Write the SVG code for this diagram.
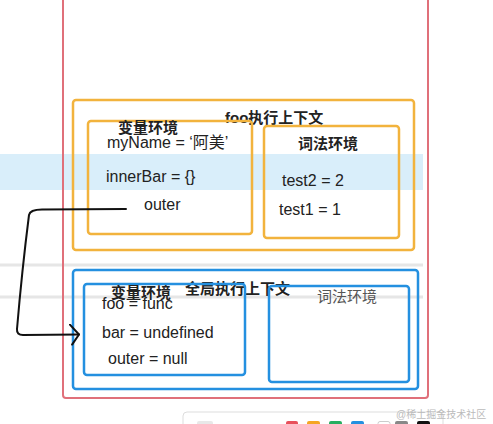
<svg xmlns="http://www.w3.org/2000/svg" width="493" height="424" viewBox="0 0 493 424">
  <style>
    .t { font-family: "Liberation Sans", "Noto Sans CJK SC", sans-serif; fill: #222; font-size: 16px; }
    .h { font-family: "Liberation Sans", "Noto Sans CJK SC", sans-serif; fill: #222; font-size: 15px; font-weight: bold; }
    .hr { font-family: "Liberation Sans", "Noto Sans CJK SC", sans-serif; fill: #555; font-size: 15px; }
    .org { fill: none; stroke: #f2b33d; stroke-width: 2.5; }
    .blu { fill: none; stroke: #2490e0; stroke-width: 2.5; }
    .grey { stroke: #e6e6e6; stroke-width: 3; }
    .sw { stroke: none; }
  </style>
  <defs>
    <marker id="arr" viewBox="0 0 12 22" refX="10" refY="11" markerWidth="12" markerHeight="22" markerUnits="userSpaceOnUse" orient="auto">
      <path d="M1,1 L10,11 L3,21" fill="none" stroke="#111" stroke-width="2" stroke-linecap="round" stroke-linejoin="round"/>
    </marker>
  </defs>
  <rect width="493" height="424" fill="#ffffff"/>
  <!-- background highlight band and grey lines -->
  <rect x="0" y="154" width="423" height="36" fill="#d9eefa"/>
  <line class="grey" x1="0" y1="265" x2="423" y2="265"/>
  <line class="grey" x1="0" y1="297" x2="423" y2="297"/>

  <g id="outer-stack">
    <rect x="63" y="-5" width="365" height="403" rx="3" fill="none" stroke="#e0707a" stroke-width="2"/>
  </g>

  <g id="foo-context">
    <rect class="org" x="73" y="100" width="341" height="150" rx="3"/>
    <text class="h" x="225" y="123">foo执行上下文</text>
  </g>
  <g id="foo-variable-env">
    <rect class="org" x="88" y="121" width="164" height="113" rx="3"/>
    <text class="h" x="118" y="133">变量环境</text>
    <text class="t" x="107" y="148">myName = ‘阿美’</text>
    <text class="t" x="106" y="182">innerBar = {}</text>
    <text class="t" x="144" y="210">outer</text>
  </g>
  <g id="foo-lexical-env">
    <rect class="org" x="264" y="126" width="135" height="112" rx="3"/>
    <text class="h" x="298" y="149">词法环境</text>
    <text class="t" x="282" y="186">test2 = 2</text>
    <text class="t" x="279" y="215">test1 = 1</text>
  </g>

  <g id="global-context">
    <rect class="blu" x="73" y="270" width="345" height="119" rx="3"/>
    <text class="h" x="185" y="294">全局执行上下文</text>
  </g>
  <g id="global-variable-env">
    <rect class="blu" x="84" y="284" width="161" height="91" rx="3"/>
    <text class="h" x="111" y="298">变量环境</text>
    <text class="t" x="102" y="309">foo = func</text>
    <text class="t" x="102" y="338">bar = undefined</text>
    <text class="t" x="108" y="364">outer = null</text>
  </g>
  <g id="global-lexical-env">
    <rect class="blu" x="269" y="286" width="140" height="96" rx="3"/>
    <text class="hr" x="317" y="302">词法环境</text>
  </g>

  <g id="connectors">
    <path d="M126,209 L42,209.5 Q30,209.5 29,215 Q22,270 17,329 Q16.5,335 23,335 L79,334.5" fill="none" stroke="#111" stroke-width="2" stroke-linecap="round" stroke-linejoin="round" marker-end="url(#arr)"/>
  </g>

  <g id="toolbar">
    <rect x="183" y="412" width="260" height="20" rx="4" fill="#ffffff" stroke="#dddddd" stroke-width="1"/>
    <rect class="sw" x="197" y="421" width="16" height="8" rx="2" fill="#e8e8e8"/>
    <rect class="sw" x="286" y="421" width="12" height="8" rx="2" fill="#e8505b"/>
    <rect class="sw" x="307" y="421" width="13" height="8" rx="2" fill="#f5a623"/>
    <rect class="sw" x="329" y="421" width="13" height="8" rx="2" fill="#27ae60"/>
    <rect class="sw" x="351" y="421" width="13" height="8" rx="2" fill="#2490e0"/>
    <rect x="378" y="421.5" width="12" height="8" rx="2" fill="#ffffff" stroke="#cccccc" stroke-width="1"/>
    <rect class="sw" x="395" y="421" width="13" height="8" rx="2" fill="#888888"/>
    <rect class="sw" x="417" y="421" width="13" height="8" rx="2" fill="#111111"/>
  </g>
  <text x="396" y="418" font-family="Liberation Sans, Noto Sans CJK SC, sans-serif" font-size="10" fill="#bbbbbb">@稀土掘金技术社区</text>
</svg>
